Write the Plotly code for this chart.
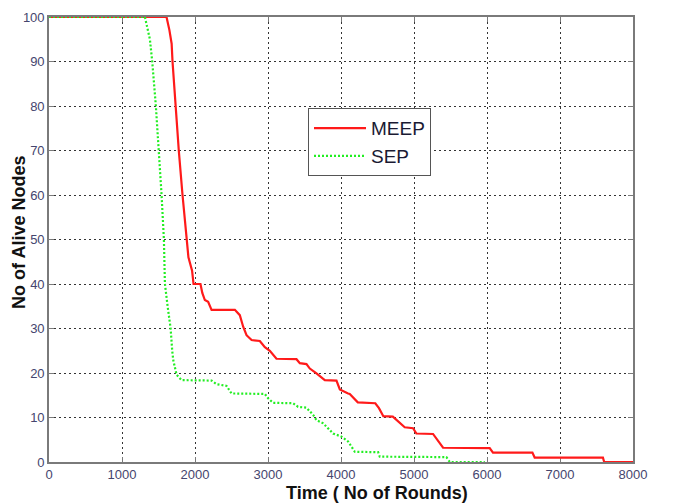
import plotly.graph_objects as go

# Network lifetime: number of alive nodes versus simulation rounds
meep_rounds = [0, 1610, 1650, 1680, 1692, 1733, 1778, 1829, 1883, 1910, 1960, 1980,
               2075, 2100, 2135, 2180, 2227, 2546, 2614, 2660, 2706, 2775, 2888, 2957,
               3025, 3116, 3390, 3436, 3527, 3573, 3664, 3778, 3938, 3984, 4097, 4120,
               4230, 4470, 4520, 4580, 4710, 4782, 4873, 4987, 5033, 5261, 5307, 5398,
               6037, 6082, 6622, 6653, 7588, 7605, 8000]
meep_alive = [100, 100, 97, 94, 90, 80, 70, 60, 50, 46, 43, 40,
              40, 38, 36.4, 36, 34.2, 34.2, 33, 30.4, 28.5, 27.4, 27.2, 25.8,
              25, 23.2, 23.1, 22.2, 22, 21, 19.9, 18.4, 18.3, 16.3, 15.4, 15.3,
              13.4, 13.2, 12.1, 10.3, 10.2, 9.1, 7.8, 7.6, 6.4, 6.3, 5.3, 3.2,
              3.1, 2.1, 2.1, 1.0, 1.0, 0, 0]

sep_rounds = [0, 1314, 1382, 1414, 1464, 1505, 1542, 1574, 1588, 1625, 1666, 1688,
              1702, 1748, 1816, 2227, 2295, 2432, 2500, 2957, 3002, 3070, 3344, 3413,
              3527, 3618, 3664, 3755, 3870, 3892, 4007, 4098, 4189, 4508, 4531, 5444,
              5490, 5970]
sep_alive = [100, 100, 95, 90, 80, 70, 60, 50, 40, 35, 30, 25,
             22.9, 19.6, 18.4, 18.3, 17.5, 17.1, 15.4, 15.3, 14.3, 13.3, 13.2, 12.4,
             12.2, 10.6, 9.4, 8.7, 6.6, 6.4, 5.7, 4.6, 2.3, 2.2, 1.2, 1.1,
             0, 0]

x_ticks = [0, 1000, 2000, 3000, 4000, 5000, 6000, 7000, 8000]
y_ticks = [0, 10, 20, 30, 40, 50, 60, 70, 80, 90, 100]

x_title = "Time ( No of Rounds)"
y_title = "No of Alive Nodes"

fig = go.Figure()
fig.add_trace(go.Scatter(
    x=meep_rounds, y=meep_alive, mode="lines", name="MEEP",
    line=dict(color="#ff1a1a", width=2.2),
))
fig.add_trace(go.Scatter(
    x=sep_rounds, y=sep_alive, mode="lines", name="SEP",
    line=dict(color="#22ee22", width=2.2, dash="2px,2px"),
))

axis_common = dict(
    showline=True, linecolor="#7a7a7a", linewidth=1.6, mirror="ticks",
    ticks="inside", ticklen=5, tickcolor="#7a7a7a", tickwidth=1,
    showgrid=True, gridcolor="#333333", gridwidth=1.3, griddash="2px,3px",
    zeroline=False, layer="below traces", automargin=False,
    tickfont=dict(family="Liberation Sans, Arial", size=13, color="#45456e"),
)
fig.update_xaxes(range=[0, 8000], tickvals=x_ticks, **axis_common)
fig.update_yaxes(range=[0, 100], tickvals=y_ticks, **axis_common)

title_font = dict(family="Liberation Sans, Arial", size=18, color="#111111")
fig.add_annotation(
    text=f"<b>{x_title}</b>", xref="paper", yref="paper",
    x=0.5616, y=-0.0697, xanchor="center", yanchor="middle",
    showarrow=False, font=title_font,
)
fig.add_annotation(
    text=f"<b>{y_title}</b>", xref="paper", yref="paper",
    x=-0.0514, y=0.517, xanchor="center", yanchor="middle",
    textangle=-90, showarrow=False, font=title_font,
)

fig.update_layout(
    width=675, height=504, autosize=False,
    margin=dict(l=49, r=42, t=17, b=42),
    paper_bgcolor="white", plot_bgcolor="white",
    showlegend=True,
    legend=dict(
        x=0.4435, y=0.795, xanchor="left", yanchor="top",
        bgcolor="white", bordercolor="#555555", borderwidth=1,
        font=dict(family="Liberation Sans, Arial", size=19, color="#1a1a33"),
        itemwidth=52, traceorder="normal",
    ),
)

fig.write_html("out.html")
